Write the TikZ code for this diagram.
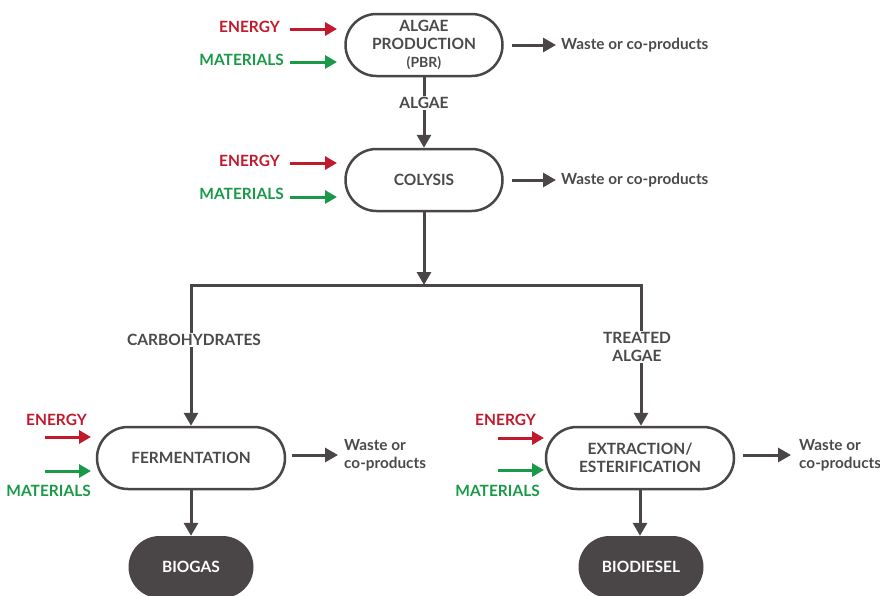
\documentclass[tikz,border=0pt]{standalone}
\usepackage{fontspec}
\setmainfont{Lato}
\usetikzlibrary{arrows.meta}
\definecolor{dk}{HTML}{4A4546}
\definecolor{txt}{HTML}{4A4A4A}
\definecolor{rd}{HTML}{C01A2C}
\definecolor{gn}{HTML}{1A9A48}
\begin{document}
\begin{tikzpicture}[x=1pt,y=-1pt,
  proc/.style={draw=dk, line width=2.5pt, rounded corners=31pt, minimum width=157pt, minimum height=62pt, text=txt, font=\bfseries\fontsize{15.5}{18}\selectfont, align=center, inner sep=0pt},
  procw/.style={proc, minimum width=188pt},
  final/.style={fill=dk, rounded corners=31pt, minimum width=125pt, minimum height=62pt, text=white, font=\bfseries\fontsize{15.5}{18}\selectfont, inner sep=0pt},
  arr/.style={draw=dk, line width=3pt, -{Triangle[length=13pt,width=14pt]}},
  bar/.style={draw=dk, line width=3pt, line cap=rect},
  ein/.style={draw=rd, line width=3pt, -{Triangle[length=12pt,width=13pt]}},
  min/.style={draw=gn, line width=3pt, -{Triangle[length=12pt,width=13pt]}},
  elab/.style={text=rd, font=\bfseries\fontsize{15.5}{18}\selectfont, inner sep=0pt},
  mlab/.style={text=gn, font=\bfseries\fontsize{15.5}{18}\selectfont, inner sep=0pt},
  lab/.style={text=txt, font=\bfseries\fontsize{15.5}{18}\selectfont, align=center, inner sep=1pt},
  waste/.style={text=txt, font=\bfseries\fontsize{15.3}{18}\selectfont, align=left, inner sep=0pt}
]
\useasboundingbox (0,0) rectangle (880,595);

% nodes
\node[proc] (ap) at (424,45) {ALGAE\\PRODUCTION\\{\fontsize{14}{18}\selectfont (PBR)}};
\node[proc] (co) at (424,180) {COLYSIS};
\node[procw] (fe) at (191,458) {FERMENTATION};
\node[procw] (ex) at (640,458) {EXTRACTION/\\ESTERIFICATION};
\node[final] (bg) at (191,567) {BIOGAS};
\node[final] (bd) at (641,567) {BIODIESEL};

% main flow
\draw[arr] (ap.south) -- (co.north);
\node[lab, fill=white] (lalg) at (424,103) {ALGAE};
\coordinate (bm) at (424,285);
\coordinate (bl) at (191,285);
\coordinate (br) at (641,285);
\draw[arr] (co.south) -- (bm);
\draw[bar] (bl) -- (br);
\draw[arr] (bl) -- (fe.north);
\draw[arr] (br) -- (br |- ex.north);
\node[lab, fill=white] (lcarb) at (194,340) {CARBOHYDRATES};
\node[lab, fill=white] (ltr) at (637,347) {TREATED\\ALGAE};
\draw[arr] (fe.south) -- (bg.north);
\draw[arr] (ex.south) -- (bd.north -| ex.south);

% inputs: algae production
\node[elab, anchor=east] (e1) at (280,27) {ENERGY};
\node[mlab, anchor=east] (m1) at (284,60) {MATERIALS};
\coordinate (e1s) at (290,29); \coordinate (e1e) at (337,29);
\coordinate (m1s) at (290,62); \coordinate (m1e) at (337,62);
\draw[ein] (e1s) -- (e1e);
\draw[min] (m1s) -- (m1e);
% inputs: colysis
\node[elab, anchor=east] (e2) at (280,161) {ENERGY};
\node[mlab, anchor=east] (m2) at (284,194) {MATERIALS};
\coordinate (e2s) at (290,163); \coordinate (e2e) at (337,163);
\coordinate (m2s) at (290,197); \coordinate (m2e) at (337,197);
\draw[ein] (e2s) -- (e2e);
\draw[min] (m2s) -- (m2e);
% inputs: fermentation
\node[elab, anchor=east] (e3) at (87,420) {ENERGY};
\node[mlab, anchor=east] (m3) at (91,491) {MATERIALS};
\coordinate (e3s) at (45,437); \coordinate (e3e) at (91,437);
\coordinate (m3s) at (45,471); \coordinate (m3e) at (91,471);
\draw[ein] (e3s) -- (e3e);
\draw[min] (m3s) -- (m3e);
% inputs: extraction
\node[elab, anchor=east] (e4) at (536,420) {ENERGY};
\node[mlab, anchor=east] (m4) at (540,491) {MATERIALS};
\coordinate (e4s) at (498,438); \coordinate (e4e) at (544,438);
\coordinate (m4s) at (498,470); \coordinate (m4e) at (544,470);
\draw[ein] (e4s) -- (e4e);
\draw[min] (m4s) -- (m4e);

% wastes
\node[waste, anchor=west] (w1) at (561,45) {Waste or co-products};
\node[waste, anchor=west] (w2) at (561,180) {Waste or co-products};
\node[waste, anchor=west] (w3) at (344,455) {Waste or\\co-products};
\node[waste, anchor=west] (w4) at (799,455) {Waste or\\co-products};
\coordinate (w1s) at (512,45); \coordinate (w2s) at (512,180);
\coordinate (w3s) at (292,455); \coordinate (w4s) at (743,455);
\draw[arr] (w1s) -- ([xshift=-5pt]w1.west);
\draw[arr] (w2s) -- ([xshift=-5pt]w2.west);
\draw[arr] (w3s) -- ([xshift=-6pt]w3.west);
\draw[arr] (w4s) -- ([xshift=-8pt]w4.west);
\end{tikzpicture}
\end{document}
